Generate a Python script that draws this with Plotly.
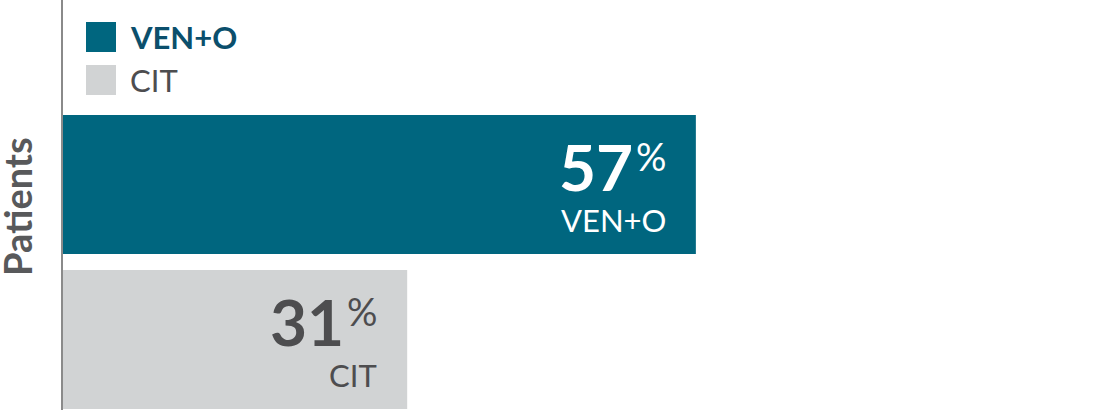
import plotly.graph_objects as go

categories = ["CIT", "VEN+O"]
values = [31, 57]
pct_labels = ["31", "57"]
bar_colors = ["#D1D3D4", "#00667F"]
text_colors = ["#4D4D4F", "#FFFFFF"]
legend_names = ["VEN+O", "CIT"]
legend_colors = ["#00667F", "#D1D3D4"]
legend_text_colors = ["#0B4F6C", "#4D4D4F"]
y_title = "Patients"

FONT = "Lato"

fig = go.Figure()
fig.add_trace(go.Bar(
    x=values, y=list(range(len(categories))), orientation="h",
    marker=dict(color=bar_colors, line=dict(width=0)),
    width=0.897, showlegend=False, hoverinfo="skip",
))

annotations = []
for i, (v, lab, cat, tc) in enumerate(zip(values, pct_labels, categories, text_colors)):
    annotations.append(dict(
        x=v, y=i, xref="x", yref="y", text="<b>" + lab + "</b>", showarrow=False,
        xanchor="right", yanchor="middle", xshift=-61, yshift=18,
        font=dict(family=FONT, size=64, color=tc),
    ))
    annotations.append(dict(
        x=v, y=i, xref="x", yref="y", text="%", showarrow=False,
        xanchor="right", yanchor="middle", xshift=-28, yshift=28,
        font=dict(family=FONT, size=38, color=tc),
    ))
    annotations.append(dict(
        x=v, y=i, xref="x", yref="y", text=cat, showarrow=False,
        xanchor="right", yanchor="middle", xshift=-28, yshift=-36,
        font=dict(family=FONT, size=31, color=tc),
    ))

shapes = []
for k, (name, c, tc) in enumerate(zip(legend_names, legend_colors, legend_text_colors)):
    top = 22 + 43 * k
    shapes.append(dict(
        type="rect", xref="paper", yref="paper",
        x0=(86 - 63) / 1047, x1=(116 - 63) / 1047,
        y0=1 - (top + 30) / 410, y1=1 - top / 410,
        fillcolor=c, line=dict(width=0), layer="above",
    ))
    annotations.append(dict(
        x=(128 - 63) / 1047, y=1 - (top + 15) / 410, xref="paper", yref="paper",
        text=("<b>" + name + "</b>") if k == 0 else name, showarrow=False,
        xanchor="left", yanchor="middle",
        font=dict(family=FONT, size=31, color=tc),
    ))

annotations.append(dict(
    x=(17 - 63) / 1047, y=1 - 207 / 410, xref="paper", yref="paper",
    text="<b>" + y_title + "</b>", showarrow=False, textangle=-90,
    xanchor="center", yanchor="middle",
    font=dict(family=FONT, size=38, color="#58595B"),
))

fig.update_layout(
    width=1110, height=410,
    margin=dict(l=63, r=0, t=0, b=0),
    paper_bgcolor="white", plot_bgcolor="white",
    xaxis=dict(range=[0, 94.3], showgrid=False, zeroline=False,
               showticklabels=False, showline=False, fixedrange=True),
    yaxis=dict(range=[-0.455, 2.19], showgrid=False, zeroline=False,
               showticklabels=False, showline=True, linecolor="#8A8A8A",
               linewidth=2, fixedrange=True),
    annotations=annotations, shapes=shapes,
)

fig.write_html(
    "out.html",
    config={"displayModeBar": False},
    post_script="document.body.style.margin='0';document.body.style.overflow='hidden';",
)
